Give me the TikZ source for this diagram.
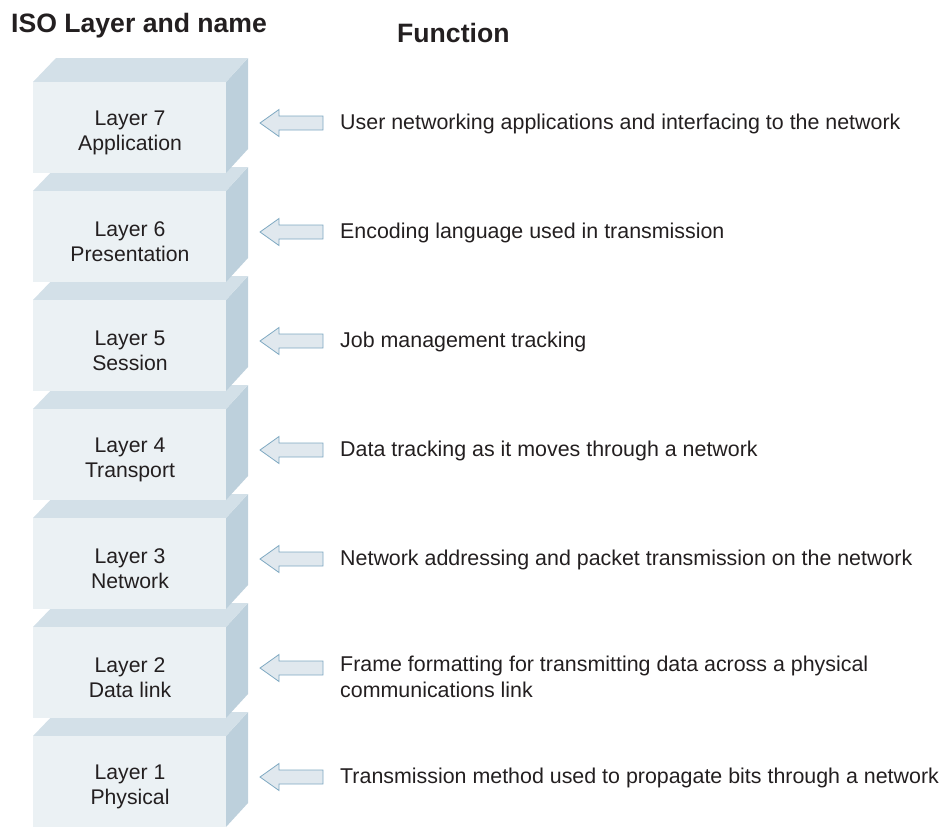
\documentclass[tikz,border=0pt]{standalone}
\usepackage{fontspec}
\setmainfont{Liberation Sans}
\definecolor{frontc}{HTML}{EBF1F4}
\definecolor{topc}{HTML}{D3E0E8}
\definecolor{sidec}{HTML}{BDD0DC}
\definecolor{arrfill}{HTML}{E0E8EE}
\definecolor{arrline}{HTML}{7FA9C2}
\definecolor{txt}{HTML}{231F20}
\tikzset{
  lay/.style={align=center,font=\fontsize{21.2}{25}\selectfont,text=txt,inner sep=0pt},
  func/.style={anchor=west,align=left,font=\fontsize{21.4}{26}\selectfont,text=txt,inner sep=0pt},
  head/.style={font=\bfseries\fontsize{26.6}{30}\selectfont,text=txt,inner sep=0pt},
  arr/.style={fill=arrfill,draw=arrline,line width=0.8pt,line join=miter}
}
\newcommand{\osiblock}[4]{%
  % #1 = front top y, #2 = name, #3 line1, #4 line2
  \fill[sidec] (226,-#1) -- (248,-#1+24) -- (248,-#1-91+24) -- (226,-#1-91) -- cycle;
  \fill[topc] (33,-#1) -- (56,-#1+24) -- (248,-#1+24) -- (226,-#1) -- cycle;
  \fill[frontc] (33,-#1) rectangle (226,-#1-91);
  \node[lay] (#2) at (130,-#1-51) {#3\\#4};
}
\newcommand{\osiarrow}[2]{%
  \draw[arr] (260,-#1) -- (279,-#1+13.5) -- (279,-#1+7) -- (323,-#1+7) -- (323,-#1-7) -- (279,-#1-7) -- (279,-#1-13.5) -- cycle;
  \coordinate (#2) at (323,-#1);
}
\begin{document}
\begin{tikzpicture}[x=1pt,y=1pt]
\useasboundingbox (0,0) rectangle (941,-828);
\node[head,anchor=west] (h1) at (11,-26) {ISO Layer and name};
\node[head,anchor=west] (h2) at (397,-33) {Function};
\osiblock{736}{L1}{Layer 1}{Physical}
\osiblock{627}{L2}{Layer 2}{Data link}
\osiblock{518}{L3}{Layer 3}{Network}
\osiblock{409}{L4}{Layer 4}{Transport}
\osiblock{300}{L5}{Layer 5}{Session}
\osiblock{191}{L6}{Layer 6}{Presentation}
\osiblock{82}{L7}{Layer 7}{Application}
\osiarrow{123}{a7}
\osiarrow{232}{a6}
\osiarrow{341}{a5}
\osiarrow{450}{a4}
\osiarrow{559}{a3}
\osiarrow{668}{a2}
\osiarrow{777}{a1}
\node[func] (f7) at (340,-124) {User networking applications and interfacing to the network};
\node[func] (f6) at (340,-233) {Encoding language used in transmission};
\node[func] (f5) at (340,-342) {Job management tracking};
\node[func] (f4) at (340,-451) {Data tracking as it moves through a network};
\node[func] (f3) at (340,-560) {Network addressing and packet transmission on the network};
\node[func,anchor=north west] (f2) at (340,-656) {Frame formatting for transmitting data across a physical\\communications link};
\node[func] (f1) at (340,-778) {Transmission method used to propagate bits through a network};
\end{tikzpicture}
\end{document}
